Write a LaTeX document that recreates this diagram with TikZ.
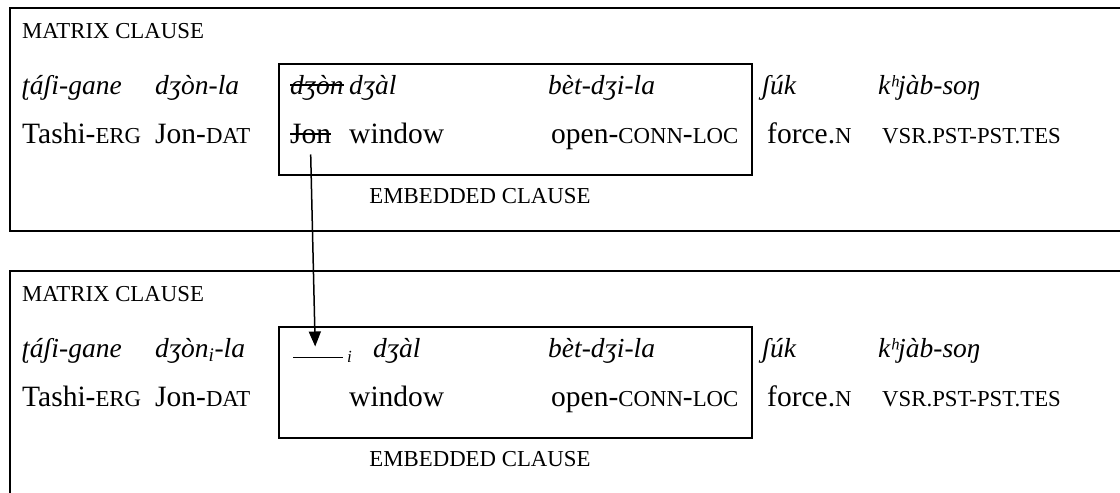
\documentclass[tikz,border=0pt]{standalone}
\usepackage{fontspec}
\setmainfont{Liberation Serif}
\usetikzlibrary{arrows.meta}
\newcommand{\bigsz}{\fontsize{29.5pt}{31pt}\selectfont}
\newcommand{\itsz}{\fontsize{27.5pt}{29pt}\selectfont}
\newcommand{\smsz}{\fontsize{22.8pt}{24pt}\selectfont}
\newcommand{\smc}[1]{{\smsz #1}}
\begin{document}
\begin{tikzpicture}[x=1pt,y=-1pt,
  rom/.style={anchor=base west, inner sep=0pt, font=\bigsz},
  ita/.style={anchor=base west, inner sep=0pt, font=\itsz\itshape},
  lbl/.style={anchor=base west, inner sep=0pt, font=\smsz},
  frame/.style={draw, line width=2pt},
  strike/.style={line width=1.6pt},
  link/.style={line width=1.5pt, -{Triangle[length=15pt,width=12pt]}}]
\useasboundingbox (0,0) rectangle (1120,493);
\clip (0,0) rectangle (1120,493);

% ---------- original sentence ----------
\draw[frame] (10,8) rectangle (1140,231);
\draw[frame] (279,64) rectangle (752,175);
\node[lbl] (mA) at (22,38) {MATRIX CLAUSE};
\node[ita] (a1) at (22,94) {ʈáʃi-gane};
\node[ita] (a2) at (155,94) {dʒòn-la};
\node[ita] (a3) at (290,94) {dʒòn};
\node[ita] (a4) at (349,94) {dʒàl};
\node[ita] (a5) at (548,94) {bèt-dʒi-la};
\node[ita] (a6) at (762,94) {ʃúk};
\node[ita] (a7) at (878,94) {kʰjàb-soŋ};
\node[rom] (b1) at (22,143) {Tashi-\smc{ERG}};
\node[rom] (b2) at (155,143) {Jon-\smc{DAT}};
\node[rom] (b3) at (290,143) {Jon};
\node[rom] (b4) at (349,143) {window};
\node[rom] (b5) at (551,143) {open-\smc{CONN}-\smc{LOC}};
\node[rom] (b6) at (767,143) {force.\smc{N}};
\node[rom] (b7) at (882,143) {\smc{VSR.PST-PST.TES}};
\node[lbl, anchor=base] (eA) at (480,203) {EMBEDDED CLAUSE};
\draw[strike] ([yshift=9pt]a3.base west) -- ([yshift=9pt]a3.base east);
\draw[strike] ([yshift=9pt]b3.base west) -- ([yshift=9pt]b3.base east);

% ---------- sentence with the gap ----------
\draw[frame] (10,271) rectangle (1140,510);
\draw[frame] (279,327) rectangle (752,438);
\node[lbl] (mB) at (22,301) {MATRIX CLAUSE};
\node[ita] (c1) at (22,357) {ʈáʃi-gane};
\node[ita] (c2) at (155,357) {dʒòn\textsubscript{i}-la};
\node[anchor=base west, inner sep=0pt] (gap) at (293,358) {\rule{50pt}{1.3pt}};
\node[anchor=base west, inner sep=0pt, font=\fontsize{17pt}{18pt}\selectfont\itshape] (gi) at (347,362) {i};
\node[ita] (c4) at (373,357) {dʒàl};
\node[ita] (c5) at (548,357) {bèt-dʒi-la};
\node[ita] (c6) at (762,357) {ʃúk};
\node[ita] (c7) at (878,357) {kʰjàb-soŋ};
\node[rom] (d1) at (22,406) {Tashi-\smc{ERG}};
\node[rom] (d2) at (155,406) {Jon-\smc{DAT}};
\node[rom] (d4) at (349,406) {window};
\node[rom] (d5) at (551,406) {open-\smc{CONN}-\smc{LOC}};
\node[rom] (d6) at (767,406) {force.\smc{N}};
\node[rom] (d7) at (882,406) {\smc{VSR.PST-PST.TES}};
\node[lbl, anchor=base] (eB) at (480,466) {EMBEDDED CLAUSE};

% movement arrow
\draw[link] ([yshift=-11pt]b3.south) -- ([yshift=10pt,xshift=-3pt]gap.north);
\end{tikzpicture}
\end{document}
